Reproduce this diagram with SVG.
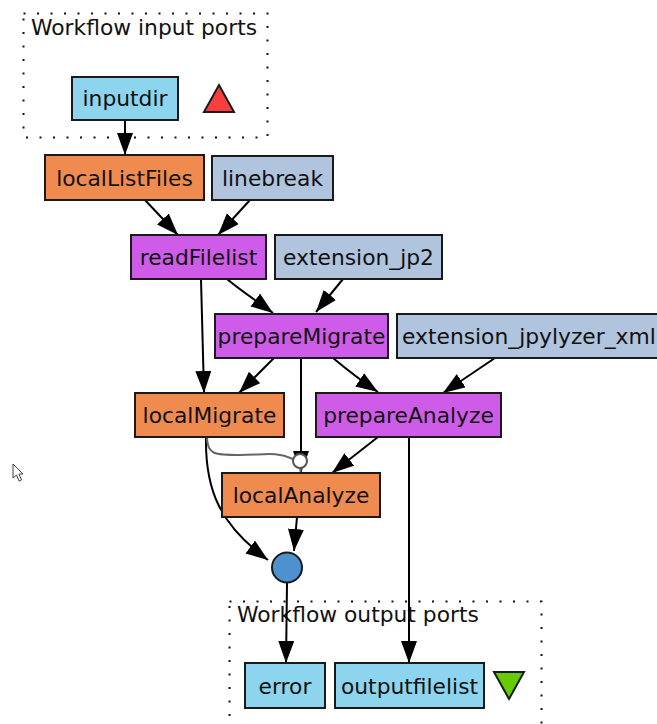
<svg xmlns="http://www.w3.org/2000/svg" width="657" height="724" viewBox="0 0 657 724">
<style>
text{font-family:"DejaVu Sans","Liberation Sans",sans-serif;font-size:21.8px;fill:#111}
.node{stroke:#1a1a1a;stroke-width:2}
.in{fill:#8dd5ef}
.orange{fill:#f08b50}
.purple{fill:#cf5ce8}
.const{fill:#b0c4de}
.cluster{fill:none;stroke:#111;stroke-width:2;stroke-dasharray:2 11.5}
.edge{fill:none;stroke:#000;stroke-width:2}
.ctrl{fill:none;stroke:#666;stroke-width:2}
</style>
<defs>
<marker id="arr" markerUnits="userSpaceOnUse" markerWidth="23" markerHeight="17" refX="22" refY="8" orient="auto">
<path d="M0,0 L22,8 L0,16 z" fill="#000"/>
</marker>
</defs>
<rect width="657" height="724" fill="#fff"/>
<g id="cluster_input">
<rect class="cluster" x="23.5" y="13.5" width="244" height="124"/>
<text x="31" y="35">Workflow input ports</text>
<polygon points="204,112 234,112 219,85" fill="#fa3e3e" stroke="#1a1a1a" stroke-width="2"/>
</g>
<g id="cluster_output">
<rect class="cluster" x="229.5" y="601.5" width="312" height="130"/>
<text x="237" y="622">Workflow output ports</text>
<polygon points="494,672 524,672 509,699" fill="#66cc00" stroke="#1a1a1a" stroke-width="2"/>
</g>
<g id="connectors">
<path class="edge" d="M125,120 L125,155" marker-end="url(#arr)"/>
<path class="edge" d="M145,200 L178,235" marker-end="url(#arr)"/>
<path class="edge" d="M250,200 L218,235" marker-end="url(#arr)"/>
<path class="edge" d="M227,279 C240,290 258,302 273,313" marker-end="url(#arr)"/>
<path class="edge" d="M343,279 L316,312" marker-end="url(#arr)"/>
<path class="edge" d="M201,279 C202,320 203,360 204,393" marker-end="url(#arr)"/>
<path class="edge" d="M274,358 L239,393" marker-end="url(#arr)"/>
<path class="edge" d="M333,358 C345,368 360,380 378,392" marker-end="url(#arr)"/>
<path class="edge" d="M495,358 L443,393" marker-end="url(#arr)"/>
<path class="edge" d="M301,358 L301,473" marker-end="url(#arr)"/>
<path class="edge" d="M206,437 C205,490 220,525 268,560" marker-end="url(#arr)"/>
<path class="edge" d="M297,517 L294,551" marker-end="url(#arr)"/>
<path class="edge" d="M287,583 L286,663" marker-end="url(#arr)"/>
<path class="edge" d="M378,437 L332,473" marker-end="url(#arr)"/>
<path class="edge" d="M409,437 L409,663" marker-end="url(#arr)"/>
<path class="ctrl" d="M207,437 C207,455 215,455 240,455 C265,455 275,451 293,459"/>
<line x1="300.5" y1="468" x2="300.5" y2="473" stroke="#666" stroke-width="2"/>
<circle cx="300" cy="461" r="7" fill="#fff" stroke="#555" stroke-width="2"/>
</g>
<g id="inputdir"><rect class="node in" x="72" y="77" width="106" height="43"/><text x="125" y="106" text-anchor="middle">inputdir</text></g>
<g id="localListFiles"><rect class="node orange" x="45" y="155" width="159" height="45"/><text x="124.5" y="186" text-anchor="middle">localListFiles</text></g>
<g id="linebreak"><rect class="node const" x="212" y="156" width="121" height="44"/><text x="272.5" y="186" text-anchor="middle">linebreak</text></g>
<g id="readFilelist"><rect class="node purple" x="131" y="235" width="135" height="44"/><text x="198.5" y="265" text-anchor="middle">readFilelist</text></g>
<g id="extension_jp2"><rect class="node const" x="275" y="235" width="167" height="44"/><text x="358.5" y="265" text-anchor="middle">extension_jp2</text></g>
<g id="prepareMigrate"><rect class="node purple" x="215" y="314" width="173" height="44"/><text x="301.5" y="344" text-anchor="middle">prepareMigrate</text></g>
<g id="extension_jpylyzer_xml"><rect class="node const" x="397" y="314" width="270" height="44"/><text x="402" y="344">extension_jpylyzer_xml</text></g>
<g id="localMigrate"><rect class="node orange" x="135" y="393" width="149" height="44"/><text x="209.5" y="423" text-anchor="middle">localMigrate</text></g>
<g id="prepareAnalyze"><rect class="node purple" x="316" y="393" width="185" height="44"/><text x="408.5" y="423" text-anchor="middle">prepareAnalyze</text></g>
<g id="localAnalyze"><rect class="node orange" x="222" y="473" width="158" height="44"/><text x="301" y="503" text-anchor="middle">localAnalyze</text></g>
<g id="merge"><circle cx="287" cy="567.5" r="15" fill="#4f90cf" stroke="#1a1a1a" stroke-width="2"/></g>
<g id="error"><rect class="node in" x="245" y="663" width="80" height="45"/><text x="285" y="694" text-anchor="middle">error</text></g>
<g id="outputfilelist"><rect class="node in" x="335" y="663" width="149" height="45"/><text x="409.5" y="694" text-anchor="middle">outputfilelist</text></g>
<g id="cursor"><path d="M13,464 L13,478 L16.5,475 L19,481 L21.5,480 L19,474 L23,474 Z" fill="#fff" stroke="#444" stroke-width="1"/></g>
</svg>
